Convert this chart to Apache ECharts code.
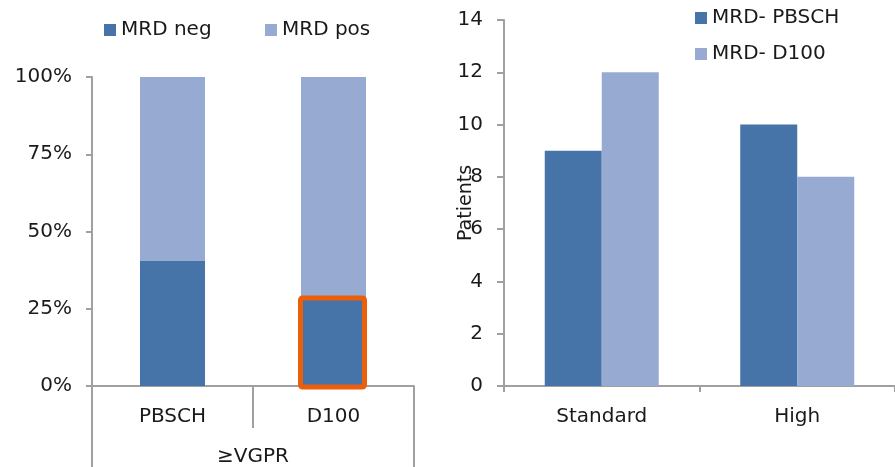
<!DOCTYPE html>
<html>
<head>
<meta charset="utf-8">
<style>
  html, body { margin: 0; padding: 0; background: #fff; }
  #chart { width: 895px; height: 467px; }
</style>
<script src="https://cdn.jsdelivr.net/npm/echarts@6/dist/echarts.min.js"></script>
</head>
<body>
<div id="chart"></div>
<script>
// Left panel: MRD status share by timepoint (stacked to 100%)
const leftCategories = ['PBSCH', 'D100'];
const leftGroup = ['≥VGPR'];
const mrdNegShare = [40.5, 28.5];
const mrdPosShare = [59.5, 71.5];
// The D100 MRD-negative segment is framed
const highlighted = [[1, mrdNegShare[1]]];

// Right panel: MRD-negative patients by risk group
const riskCategories = ['Standard', 'High'];
const mrdNegPbsch = [9, 10];
const mrdNegD100 = [12, 8];

const DARK = '#4673A8';
const LIGHT = '#96AAD2';
const ORANGE = '#EB5F0C';
const AXIS = '#A0A0A0';
const TEXT = '#1A1A1A';
const FONT = 'DejaVu Sans';
const FS = 20;

const chart = echarts.init(document.getElementById('chart'), null, { renderer: 'canvas' });

const legendText = () => ({ color: TEXT, fontFamily: FONT, fontSize: FS });
const lineStyle = () => ({ color: AXIS, width: 2 });
const fillOf = (c) => ({ color: c, borderWidth: 0 });

chart.setOption({
  animation: false,
  backgroundColor: '#fff',
  legend: [
    { data: ['MRD neg'], left: 104, top: 20, padding: 0, itemWidth: 12, itemHeight: 12, icon: 'rect', textStyle: legendText() },
    { data: ['MRD pos'], left: 265, top: 20, padding: 0, itemWidth: 12, itemHeight: 12, icon: 'rect', textStyle: legendText() },
    { data: ['MRD- PBSCH', 'MRD- D100'], orient: 'vertical', left: 695, top: 8, padding: 0, itemWidth: 12, itemHeight: 12, itemGap: 16, icon: 'rect', textStyle: legendText() }
  ],
  grid: [
    { left: 92, top: 77, width: 322, height: 309 },
    { left: 504, top: 20, width: 400, height: 366 }
  ],
  xAxis: [
    {
      gridIndex: 0, type: 'category', data: leftCategories,
      axisLine: { show: true, lineStyle: lineStyle() },
      axisTick: { show: true, length: 42, lineStyle: lineStyle() },
      axisLabel: { color: TEXT, fontFamily: FONT, fontSize: FS, margin: 21 }
    },
    {
      gridIndex: 0, type: 'category', data: leftGroup, position: 'bottom',
      axisLine: { show: false },
      axisTick: { show: true, length: 90, lineStyle: lineStyle() },
      axisLabel: { color: TEXT, fontFamily: FONT, fontSize: FS, margin: 61 }
    },
    {
      gridIndex: 1, type: 'category', data: riskCategories,
      axisLine: { show: true, lineStyle: lineStyle() },
      axisTick: { show: true, length: 6, lineStyle: lineStyle() },
      axisLabel: { color: TEXT, fontFamily: FONT, fontSize: FS, margin: 21 }
    }
  ],
  yAxis: [
    {
      gridIndex: 0, type: 'value', min: 0, max: 100, interval: 25,
      splitLine: { show: false },
      axisLine: { show: true, lineStyle: lineStyle() },
      axisTick: { show: true, inside: false, length: 6, lineStyle: lineStyle() },
      axisLabel: { formatter: '{value}%', color: TEXT, fontFamily: FONT, fontSize: FS, margin: 20 }
    },
    {
      gridIndex: 1, type: 'value', min: 0, max: 14, interval: 2,
      name: 'Patients', nameLocation: 'middle', nameGap: 28, nameRotate: 90, nameMoveOverlap: false,
      nameTextStyle: { color: TEXT, fontFamily: 'DejaVu Sans', fontSize: 19 },
      splitLine: { show: false },
      axisLine: { show: true, lineStyle: lineStyle() },
      axisTick: { show: true, inside: false, length: 7, lineStyle: lineStyle() },
      axisLabel: { color: TEXT, fontFamily: FONT, fontSize: FS, margin: 21 }
    }
  ],
  series: [
    {
      name: 'MRD neg', type: 'bar', stack: 'share', xAxisIndex: 0, yAxisIndex: 0, barWidth: 65,
      itemStyle: fillOf(DARK), data: mrdNegShare, z: 3
    },
    {
      name: 'MRD pos', type: 'bar', stack: 'share', xAxisIndex: 0, yAxisIndex: 0, barWidth: 65,
      itemStyle: fillOf(LIGHT), data: mrdPosShare, z: 2
    },
    {
      // Orange frame around the highlighted segment
      type: 'custom', xAxisIndex: 0, yAxisIndex: 0, z: 5, silent: true,
      data: highlighted,
      renderItem: (params, api) => {
        const base = api.coord([api.value(0), 0]);
        const top = api.coord([api.value(0), api.value(1)]);
        const w = 64;
        return {
          type: 'rect',
          shape: { x: base[0] - w / 2 - 1, y: top[1], width: w, height: base[1] - top[1] + 1, r: 2 },
          style: { fill: 'none', stroke: ORANGE, lineWidth: 5 }
        };
      }
    },
    {
      name: 'MRD- PBSCH', type: 'bar', xAxisIndex: 2, yAxisIndex: 1, barWidth: 57, barGap: '0%',
      itemStyle: fillOf(DARK), data: mrdNegPbsch
    },
    {
      name: 'MRD- D100', type: 'bar', xAxisIndex: 2, yAxisIndex: 1, barWidth: 57, barGap: '0%',
      itemStyle: fillOf(LIGHT), data: mrdNegD100
    }
  ]
});
</script>
</body>
</html>
